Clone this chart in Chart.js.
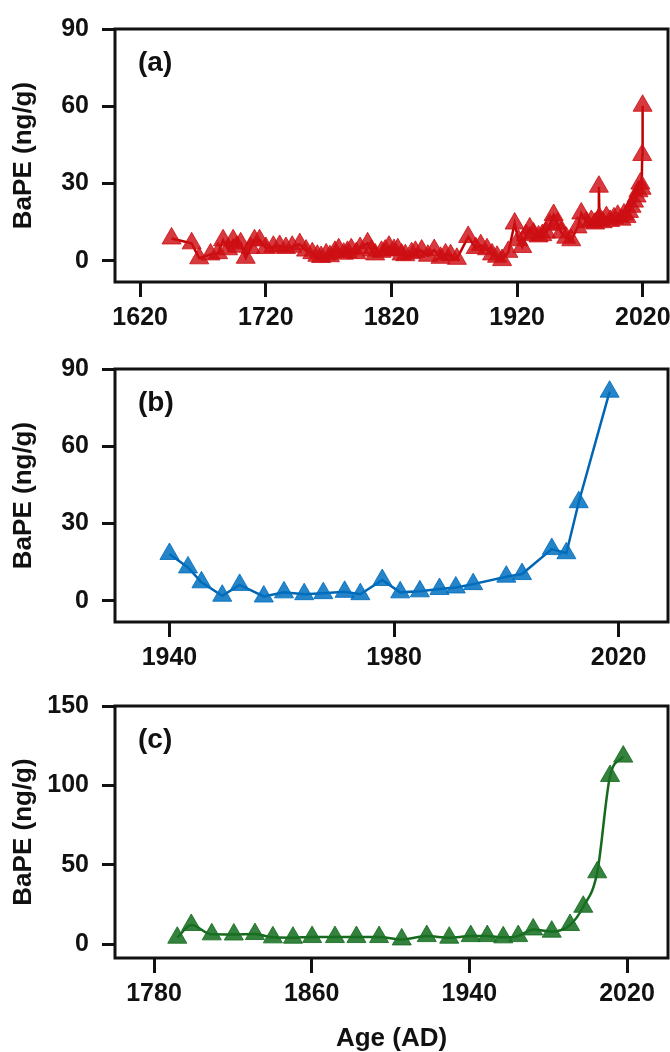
<!DOCTYPE html>
<html><head><meta charset="utf-8">
<script src="https://cdn.jsdelivr.net/npm/chart.js@4/dist/chart.umd.min.js"></script>
<style>
html,body{margin:0;padding:0;background:#fff;}
body{width:670px;height:1052px;position:relative;overflow:hidden;}
.panel{position:absolute;left:0;width:670px;}
canvas{display:block;}
</style></head><body>
<div class="panel" style="top:0;height:340px"><canvas id="ca" width="670" height="340"></canvas></div>
<div class="panel" style="top:340px;height:340px"><canvas id="cb" width="670" height="340"></canvas></div>
<div class="panel" style="top:680px;height:372px"><canvas id="cc" width="670" height="372"></canvas></div>
<script>
// ---- data ----
const yearsA = [1645,1661,1667,1676,1682,1686,1690,1694,1697,1700,1704,1708,1711,1715,1720,1726,1731,1736,1741,1747,1752,1757,1761,1764,1768,1771,1775,1778,1782,1785,1788,1792,1795,1801,1804,1807,1812,1815,1818,1822,1825,1828,1831,1836,1839,1844,1849,1854,1859,1863,1867,1872,1881,1887,1891,1896,1900,1904,1908,1913,1918,1921,1924,1927,1930,1933,1937,1940,1943,1946,1949,1952,1955,1959,1963,1968,1971,1975,1979,1982,1984.5,1985,1985.5,1988,1991,1994,1997,2000,2003,2005,2007,2009,2011,2013,2015,2016.5,2018,2019,2019.5,2019.8];
const bapeA  = [8.7,6.8,1.0,2.5,3.0,8.0,4.5,8.0,5.5,6.8,1.2,5.0,8.0,8.0,5.0,5.5,5.8,5.0,5.5,6.5,4.0,3.0,2.0,1.5,2.5,1.8,3.5,4.5,2.8,3.5,4.5,3.0,5.0,6.8,4.0,2.5,3.5,4.0,5.5,4.2,4.5,2.5,2.2,3.0,3.5,4.0,2.0,4.2,1.2,2.5,2.2,0.8,9.3,5.0,6.1,4.5,2.5,1.6,0.3,3.5,14.5,8.0,5.4,10.0,12.6,10.6,9.5,10.0,11.0,14.0,17.8,14.5,11.0,9.0,8.0,13.0,18.4,15.0,15.5,14.5,16.0,28.8,16.5,15.0,17.0,15.5,16.5,17.5,16.0,18.0,17.0,19.0,21.0,23.0,25.0,27.0,30.0,28.0,41.1,60.2];

const yearsB = [1940,1943.3,1945.7,1949.4,1952.5,1956.8,1960.4,1964,1967.4,1971.2,1974,1977.9,1981.1,1984.6,1988.1,1991,1994.1,2000,2002.8,2008.1,2010.7,2012.9,2018.4];
const bapeB  = [18.2,13.0,7.2,2.0,6.2,1.7,3.3,2.6,3.0,3.5,2.6,8.1,3.3,3.7,4.6,5.2,6.5,9.4,10.4,20.1,18.5,38.3,81.2];

const yearsC = [1791.8,1798.9,1809.3,1820.5,1831.2,1840.3,1850.5,1860.2,1871.8,1882.7,1894.2,1905.7,1918.4,1929.8,1940.7,1949.1,1957.2,1964.8,1972.4,1981.8,1991.1,1997.8,2004.9,2011.4,2018.1];
const bapeC  = [4.0,12.0,6.1,6.0,6.3,4.2,4.0,4.4,4.4,4.4,4.4,2.9,5.0,4.0,5.0,5.0,4.2,5.0,9.2,7.8,12.0,23.5,45.2,105.9,118.1];

const xTicksA = [1620,1720,1820,1920,2020];
const xTicksB = [1940,1980,2020];
const xTicksC = [1780,1860,1940,2020];
const yTicksA = [0,30,60,90];
const yTicksB = [0,30,60,90];
const yTicksC = [0,50,100,150];
const panelLabels = ['(a)','(b)','(c)'];
const yTitleText = 'BaPE (ng/g)';
const xTitleText = 'Age (AD)';

// ---- rendering ----
const FAM = '"Liberation Sans", Arial, Helvetica, sans-serif';
const INK = '#111';

const framePlugin = {
  id: 'frame',
  afterDatasetsDraw(chart, args, opts) {
    const ctx = chart.ctx;
    const a = chart.chartArea;
    ctx.save();
    ctx.lineWidth = 3;
    ctx.strokeStyle = INK;
    ctx.strokeRect(a.left, a.top, a.right - a.left, a.bottom - a.top);
    ctx.fillStyle = INK;
    ctx.font = 'bold 28px ' + FAM;
    ctx.textBaseline = 'middle';
    ctx.textAlign = 'left';
    ctx.fillText(opts.label, a.left + 23, a.top + 34);
    ctx.restore();
  }
};

function makeChart(id, years, values, cfg) {
  const data = years.map((x, i) => ({x: x, y: values[i]}));
  return new Chart(document.getElementById(id), {
    type: 'line',
    data: { datasets: [{
      data: data,
      borderColor: cfg.line,
      borderWidth: 2.5,
      backgroundColor: cfg.fill,
      pointStyle: 'triangle',
      pointRadius: 11,
      pointBorderWidth: 1,
      pointBorderColor: cfg.fill,
      pointBackgroundColor: cfg.fill,
      fill: false,
      tension: cfg.smooth ? 0.4 : 0,
      cubicInterpolationMode: cfg.smooth ? 'monotone' : 'default'
    }]},
    plugins: [framePlugin],
    options: {
      responsive: false,
      animation: false,
      layout: { autoPadding: false, padding: { top: cfg.top, right: 2, left: 0, bottom: 0 } },
      plugins: { legend: {display: false}, tooltip: {enabled: false}, frame: {label: cfg.label} },
      scales: {
        x: {
          type: 'linear', min: cfg.xmin, max: cfg.xmax,
          afterBuildTicks: s => { s.ticks = cfg.xticks.map(v => ({value: v})); },
          afterFit: s => { s.height = cfg.xh; s.paddingLeft = 0; s.paddingRight = 0; },
          border: {display: false},
          grid: {display: true, drawOnChartArea: false, drawTicks: true, tickLength: 15, tickWidth: 3, lineWidth: 3, color: INK, tickColor: INK},
          ticks: {autoSkip: false, maxRotation: 0, minRotation: 0, padding: 6, color: INK,
                  font: {family: FAM, size: 25, weight: 'bold'}, callback: v => String(v)},
          title: cfg.xtitle ? {display: true, text: cfg.xtitle, color: INK,
                  font: {family: FAM, size: 26, weight: 'bold', lineHeight: 1}, padding: {top: 0, bottom: 0}} : {display: false}
        },
        y: {
          type: 'linear', min: cfg.ymin, max: cfg.ymax,
          afterBuildTicks: s => { s.ticks = cfg.yticks.map(v => ({value: v})); },
          afterFit: s => { s.width = 115; s.paddingTop = 0; s.paddingBottom = 0; },
          border: {display: false},
          grid: {display: true, drawOnChartArea: false, drawTicks: true, tickLength: 13, tickWidth: 3, lineWidth: 3, color: INK, tickColor: INK},
          ticks: {autoSkip: false, padding: 13, color: INK,
                  font: {family: FAM, size: 25, weight: 'bold'}, callback: v => String(v)},
          title: {display: true, text: yTitleText, color: INK,
                  font: {family: FAM, size: 26, weight: 'bold'}, padding: {top: 8, bottom: 0}}
        }
      }
    }
  });
}

makeChart('ca', yearsA, bapeA, {
  label: panelLabels[0], line: '#C00000', fill: 'rgba(205,15,20,0.82)', smooth: false,
  top: 29, xh: 58, xmin: 1600, xmax: 2040, xticks: xTicksA, ymin: -8.2, ymax: 90, yticks: yTicksA
});
makeChart('cb', yearsB, bapeB, {
  label: panelLabels[1], line: '#0066B4', fill: 'rgba(0,110,190,0.85)', smooth: false,
  top: 29, xh: 58, xmin: 1930.3, xmax: 2028.8, xticks: xTicksB, ymin: -8.2, ymax: 90, yticks: yTicksB
});
makeChart('cc', yearsC, bapeC, {
  label: panelLabels[2], line: '#156A1C', fill: 'rgba(25,112,35,0.88)', smooth: true,
  top: 26, xh: 94, xmin: 1760.2, xmax: 2040.8, xticks: xTicksC, ymin: -8.8, ymax: 150, yticks: yTicksC,
  xtitle: xTitleText
});
</script>
</body></html>
